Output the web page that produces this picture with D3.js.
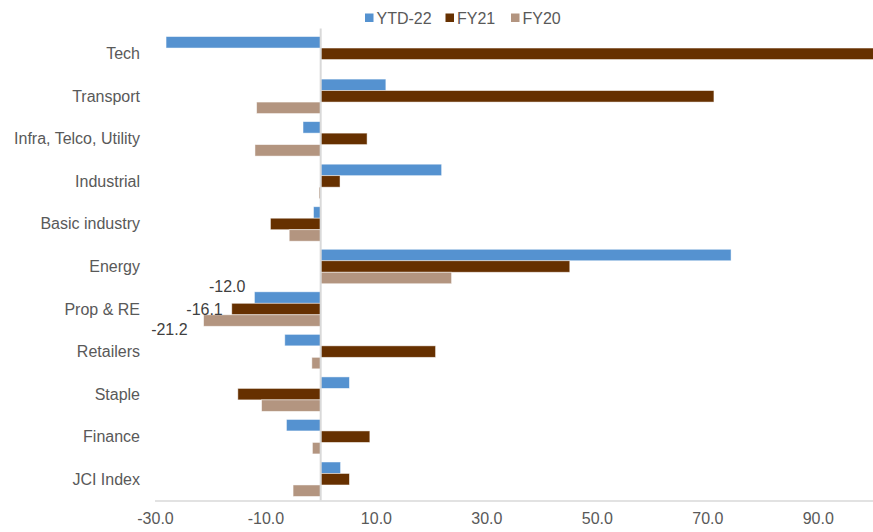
<!DOCTYPE html>
<html>
<head>
<meta charset="utf-8">
<script src="https://cdn.jsdelivr.net/npm/d3@7"></script>
<style>
  html, body { margin: 0; padding: 0; background: #fff; }
  svg { display: block; font-family: "Liberation Sans", Arial, sans-serif; }
</style>
</head>
<body>
<svg id="chart" width="873" height="532"></svg>
<script>
// Sector returns (%)
const categories = ["Tech", "Transport", "Infra, Telco, Utility", "Industrial", "Basic industry",
  "Energy", "Prop & RE", "Retailers", "Staple", "Finance", "JCI Index"];
const seriesNames = ["YTD-22", "FY21", "FY20"];
const ytd22 = [-28.0, 11.8, -3.2, 21.9, -1.3, 74.3, -12.0, -6.5, 5.2, -6.2, 3.6];
const fy21  = [104.0, 71.2, 8.4, 3.5, -9.1, 45.1, -16.1, 20.8, -15.0, 8.9, 5.2];
const fy20  = [null, -11.6, -11.9, -0.3, -5.7, 23.7, -21.2, -1.6, -10.7, -1.5, -5.0];
const tickValues = [-30, -10, 10, 30, 50, 70, 90];
const labelledCategory = "Prop & RE";

const colors = ["#5592D0", "#663000", "#B39580"];
const seriesValues = [ytd22, fy21, fy20];

const svg = d3.select("#chart");
const margin = { left: 155, right: 0, top: 32.5, bottom: 31.5 };
const W = 873, H = 532;
const fontSize = 16;

const x = d3.scaleLinear().domain([-30, 100]).range([margin.left, W - margin.right]);
const y = d3.scaleBand().domain(categories).range([margin.top, H - margin.bottom])
  .paddingInner(0.19).paddingOuter(0.095);
const ySub = d3.scaleBand().domain(seriesNames).range([0, y.bandwidth()]);

svg.append("defs").append("clipPath").attr("id", "plotClip")
  .append("rect").attr("x", margin.left).attr("y", 0)
  .attr("width", W - margin.left - margin.right).attr("height", H);

// bottom axis line
svg.append("line")
  .attr("x1", margin.left).attr("x2", W)
  .attr("y1", H - margin.bottom + 0.5).attr("y2", H - margin.bottom + 0.5)
  .attr("stroke", "#D9D9D9").attr("stroke-width", 1.5);

// bars
const rows = [];
categories.forEach((c, i) => {
  seriesNames.forEach((s, k) => {
    const v = seriesValues[k][i];
    if (v !== null && v !== undefined) rows.push({ c, s, k, v });
  });
});

svg.append("g").attr("clip-path", "url(#plotClip)")
  .selectAll("rect").data(rows).join("rect")
  .attr("x", d => x(Math.min(0, d.v)))
  .attr("width", d => Math.abs(x(d.v) - x(0)))
  .attr("y", d => y(d.c) + ySub(d.s))
  .attr("height", ySub.bandwidth())
  .attr("fill", d => colors[d.k])
  .attr("stroke", "#fff").attr("stroke-opacity", 0.6).attr("stroke-width", 0.8);

// zero line
svg.append("line")
  .attr("x1", x(0)).attr("x2", x(0))
  .attr("y1", margin.top - 4).attr("y2", H - margin.bottom)
  .attr("stroke", "#D9D9D9").attr("stroke-width", 2);

// category labels
svg.append("g").selectAll("text").data(categories).join("text")
  .attr("x", 140).attr("y", d => y(d) + y.bandwidth() / 2)
  .attr("text-anchor", "end").attr("dominant-baseline", "central")
  .attr("font-size", fontSize).attr("fill", "#595959")
  .text(d => d);

// x tick labels
const xAxis = d3.axisBottom(x).tickValues(tickValues).tickFormat(d3.format(".1f")).tickSize(0).tickPadding(12);
const ax = svg.append("g").attr("transform", `translate(0,${H - margin.bottom})`).call(xAxis);
ax.select(".domain").remove();
ax.selectAll("text").attr("font-size", fontSize).attr("fill", "#595959")
  .attr("font-family", "Liberation Sans, Arial, sans-serif")
  .text(d => d3.format(".1f")(d).replace("−", "-"));

// value labels for the highlighted sector
const labelOffsets = [{ dx: -9, dy: -11 }, { dx: -9, dy: 0 }, { dx: -16, dy: 9 }];
const li = categories.indexOf(labelledCategory);
svg.append("g").selectAll("text").data(seriesNames).join("text")
  .attr("x", (s, k) => x(seriesValues[k][li]) + labelOffsets[k].dx)
  .attr("y", (s, k) => y(labelledCategory) + ySub(s) + ySub.bandwidth() / 2 + labelOffsets[k].dy)
  .attr("text-anchor", "end").attr("dominant-baseline", "central")
  .attr("font-size", fontSize).attr("fill", "#404040")
  .text((s, k) => d3.format(".1f")(seriesValues[k][li]).replace("−", "-"));

// legend
const legendX = [365, 445.5, 511];
const lg = svg.append("g").selectAll("g").data(seriesNames).join("g")
  .attr("transform", (d, i) => `translate(${legendX[i]},13)`);
lg.append("rect").attr("width", 8.5).attr("height", 8.5).attr("y", 0.5)
  .attr("fill", (d, i) => colors[i]);
lg.append("text").attr("x", 11.5).attr("y", 5).attr("dominant-baseline", "central")
  .attr("font-size", fontSize).attr("fill", "#595959").text(d => d);
</script>
</body>
</html>
